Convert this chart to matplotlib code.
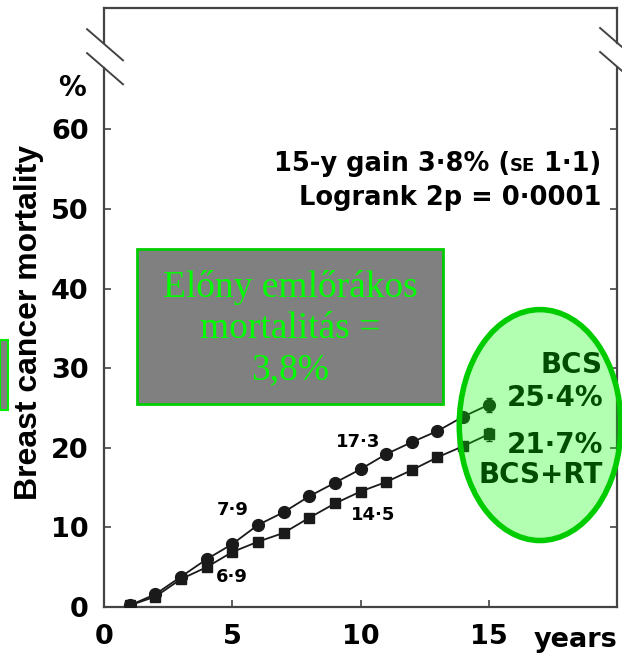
import matplotlib
matplotlib.use('Agg')
import matplotlib.pyplot as plt
from matplotlib.patches import Rectangle, Ellipse

plt.rcParams['font.family'] = ['DejaVu Sans']
plt.rcParams['font.weight'] = 'bold'

years = [1, 2, 3, 4, 5, 6, 7, 8, 9, 10, 11, 12, 13, 14, 15]
bcs = [0.2, 1.6, 3.8, 6.0, 7.9, 10.3, 11.9, 13.9, 15.6, 17.3, 19.2, 20.7, 22.1, 23.9, 25.4]
bcs_rt = [0.2, 1.3, 3.5, 5.0, 6.9, 8.2, 9.3, 11.2, 13.0, 14.5, 15.7, 17.2, 18.8, 20.2, 21.7]
err_bcs = 0.9
err_rt = 0.8
xticks = [0, 5, 10, 15]
yticks = [0, 10, 20, 30, 40, 50, 60]

fig = plt.figure(figsize=(6.22, 6.58), dpi=100)
ax = fig.add_axes([0.1672, 0.0775, 0.8248, 0.910])
ax.set_xlim(0, 20)
ax.set_ylim(0, 75.2)

ink = '#1a1a1a'
ax.plot(years, bcs, color=ink, lw=1.3, marker='o', ms=8.5, zorder=3)
ax.plot(years, bcs_rt, color=ink, lw=1.3, marker='s', ms=7, zorder=3)
ax.errorbar([15], [bcs[-1]], yerr=err_bcs, color=ink, capsize=2, lw=1, zorder=3)
ax.errorbar([15], [bcs_rt[-1]], yerr=err_rt, color=ink, capsize=2, lw=1, zorder=3)

# spines with a break near the top
for s in ['left', 'right', 'top']:
    ax.spines[s].set_visible(False)
ax.spines['bottom'].set_linewidth(1.6)
ax.spines['bottom'].set_color('#444444')
ax.plot([0, 1], [1, 1], transform=ax.transAxes, color='#444444', lw=1.6, clip_on=False)
for xx in [0, 1]:
    ax.plot([xx, xx], [0, 0.90], transform=ax.transAxes, color='#444444', lw=1.6, clip_on=False)
    ax.plot([xx, xx], [0.942, 1], transform=ax.transAxes, color='#444444', lw=1.6, clip_on=False)
for dy in [0, -0.04]:
    ax.plot([-0.033, 0.037], [0.965 + dy, 0.913 + dy], transform=ax.transAxes,
            color='#444444', lw=1.4, clip_on=False)
    ax.plot([0.967, 1.037], [0.967 + dy, 0.915 + dy], transform=ax.transAxes,
            color='#444444', lw=1.4, clip_on=False)

ax.set_xticks(xticks)
ax.set_yticks(yticks)
ax.tick_params(direction='in', length=5, width=1.2, color='#444444', labelsize=19.5,
               right=True, pad=11)
ax.tick_params(axis='x', pad=12)
ax.set_ylabel('Breast cancer mortality', fontsize=23, fontweight='bold',
              family='Liberation Sans')
ax.yaxis.set_label_coords(-0.116, 0.475)
ax.text(-0.062, 0.866, '%', transform=ax.transAxes, fontsize=20, ha='center', va='center')
ax.text(18.4, -5.0, 'years', fontsize=19.5, ha='center', va='baseline', clip_on=False)

# header text
t3 = ax.text(19.4, 54.8, ' 1·1)', fontsize=18.5, ha='right', va='baseline')
t2 = ax.annotate('SE', xy=(0, 54.8), xycoords=(t3, 'data'), fontsize=13,
                 ha='right', va='baseline')
ax.annotate('15-y gain 3·8% (', xy=(0, 54.8), xycoords=(t2, 'data'), fontsize=18.5,
            ha='right', va='baseline')
ax.text(19.4, 50.5, 'Logrank 2p = 0·0001', fontsize=18.5, ha='right', va='baseline')

# value labels
ax.text(5.0, 12.2, '7·9', fontsize=13, ha='center', va='center')
ax.text(5.0, 3.8, '6·9', fontsize=13, ha='center', va='center')
ax.text(9.9, 20.7, '17·3', fontsize=13, ha='center', va='center')
ax.text(10.5, 11.6, '14·5', fontsize=13, ha='center', va='center')

# grey box
ax.add_patch(Rectangle((1.30, 25.5), 11.93, 19.4, facecolor='#808080',
                       edgecolor='#00cc00', lw=2, zorder=4))
ax.text(7.25, 35.0, 'Előny emlőrákos\nmortalitás =\n3,8%', fontsize=27,
        fontweight='normal', family='Liberation Serif', color='#00ff00',
        ha='center', va='center', linespacing=1.25, zorder=5)

# series labels and ellipse
ax.text(19.45, 30.4, 'BCS', fontsize=20, ha='right', va='center', zorder=5)
ax.text(19.45, 26.2, '25·4%', fontsize=20, ha='right', va='center', zorder=5)
ax.text(19.45, 20.4, '21·7%', fontsize=20, ha='right', va='center', zorder=5)
ax.text(19.45, 16.6, 'BCS+RT', fontsize=20, ha='right', va='center', zorder=5)
ax.add_patch(Ellipse((17.0, 22.85), 6.3, 29.0, facecolor=(0, 1, 0, 0.3),
                     edgecolor='#00cc00', lw=4, zorder=6, clip_on=False))

fig.patches.append(Rectangle((0, 1 - 410 / 658), 8 / 622, 70 / 658,
                             transform=fig.transFigure, facecolor='#808080',
                             edgecolor='#00ee00', lw=1.5))

fig.savefig('out.png', dpi=100)
